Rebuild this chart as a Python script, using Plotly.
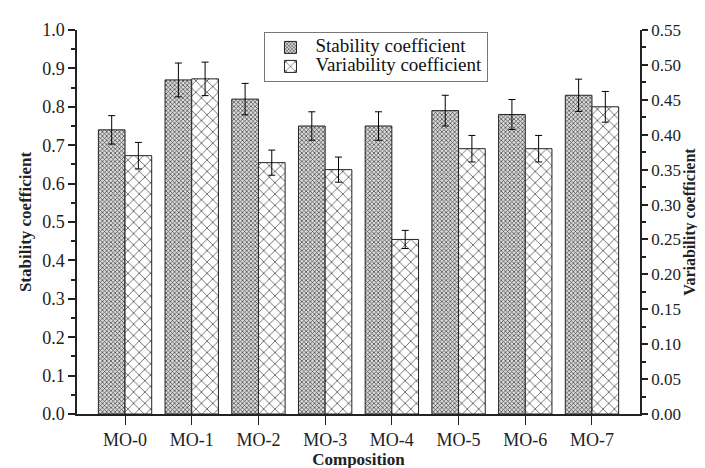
import plotly.graph_objects as go

categories = ["MO-0", "MO-1", "MO-2", "MO-3", "MO-4", "MO-5", "MO-6", "MO-7"]
stability = [0.74, 0.87, 0.82, 0.75, 0.75, 0.79, 0.78, 0.83]
stability_err = [0.037, 0.044, 0.041, 0.037, 0.037, 0.040, 0.039, 0.042]
variability = [0.37, 0.48, 0.36, 0.35, 0.25, 0.38, 0.38, 0.44]
variability_err = [0.019, 0.024, 0.018, 0.018, 0.013, 0.019, 0.019, 0.022]
series_names = ["Stability coefficient", "Variability coefficient"]

left_ticks = [round(i * 0.1, 1) for i in range(11)]
right_ticks = [round(i * 0.05, 2) for i in range(12)]

FONT = "Liberation Serif, Times New Roman, serif"


def legend_label(s):
    return f"<span style='font-size:19px'>{s}</span>"


fig = go.Figure()
fig.add_trace(go.Bar(
    x=categories, y=stability, name=legend_label(series_names[0]),
    yaxis="y", offsetgroup="a", width=0.4, offset=-0.4,
    marker=dict(color="#b8b8b8", line=dict(color="#222", width=1),
                pattern=dict(shape="x", size=3, solidity=0.4, fgcolor="#3a3a3a",
                             bgcolor="#dcdcdc", fillmode="replace")),
    error_y=dict(type="data", array=stability_err, visible=True,
                 color="black", thickness=1, width=3.5),
))
fig.add_trace(go.Bar(
    x=categories, y=variability, name=legend_label(series_names[1]),
    yaxis="y2", offsetgroup="b", width=0.4, offset=0.0,
    marker=dict(color="white", line=dict(color="#222", width=1),
                pattern=dict(shape="x", size=8, solidity=0.15, fgcolor="#222",
                             bgcolor="white", fillmode="replace")),
    error_y=dict(type="data", array=variability_err, visible=True,
                 color="black", thickness=1, width=3.5),
))

fig.update_layout(
    width=705, height=468,
    margin=dict(l=69, r=73, t=21, b=56),
    plot_bgcolor="white", paper_bgcolor="white",
    font=dict(family=FONT, size=17, color="#222"),
    barmode="group", bargap=0.2, bargroupgap=0,
    showlegend=True,
    legend=dict(x=0.333, y=0.995, xanchor="left", yanchor="top",
                bordercolor="#777", borderwidth=1, bgcolor="white",
                font=dict(family=FONT, size=12, color="#111"),
                tracegroupgap=0, itemwidth=40),
    xaxis=dict(
        range=[-0.72, 7.72], showgrid=False, zeroline=False,
        showline=True, linecolor="#222", linewidth=1.5,
        ticks="outside", ticklen=9, tickcolor="#222", tickwidth=1,
        tickfont=dict(family=FONT, size=18),
        title=dict(text="<b>Composition</b>", standoff=2,
                   font=dict(family=FONT, size=17)),
    ),
    yaxis=dict(
        range=[0, 1.0], tickvals=left_ticks, ticktext=[f"{v:.1f}" for v in left_ticks],
        showgrid=False, zeroline=False,
        showline=True, linecolor="#222", linewidth=1.5,
        ticks="outside", ticklen=7, tickcolor="#222", tickwidth=1.5,
        minor=dict(ticks="outside", ticklen=4, dtick=0.05, tickcolor="#222", tickwidth=1.5),
        tickfont=dict(family=FONT, size=18),
        title=dict(text="<b>Stability coefficient</b>", standoff=6,
                   font=dict(family=FONT, size=17)),
    ),
    yaxis2=dict(
        range=[0, 0.55], overlaying="y", side="right",
        tickvals=right_ticks, ticktext=[f"{v:.2f}" for v in right_ticks],
        showgrid=False, zeroline=False,
        showline=True, linecolor="#222", linewidth=1.5,
        ticks="outside", ticklen=6, tickcolor="#222", tickwidth=1.5,
        minor=dict(ticks="outside", ticklen=4, dtick=0.025, tickcolor="#222", tickwidth=1.5),
        tickfont=dict(family=FONT, size=17),
        title=dict(text="<b>Variability coefficient</b>", standoff=0,
                   font=dict(family=FONT, size=16)),
    ),
)

fig.write_html("out.html")
